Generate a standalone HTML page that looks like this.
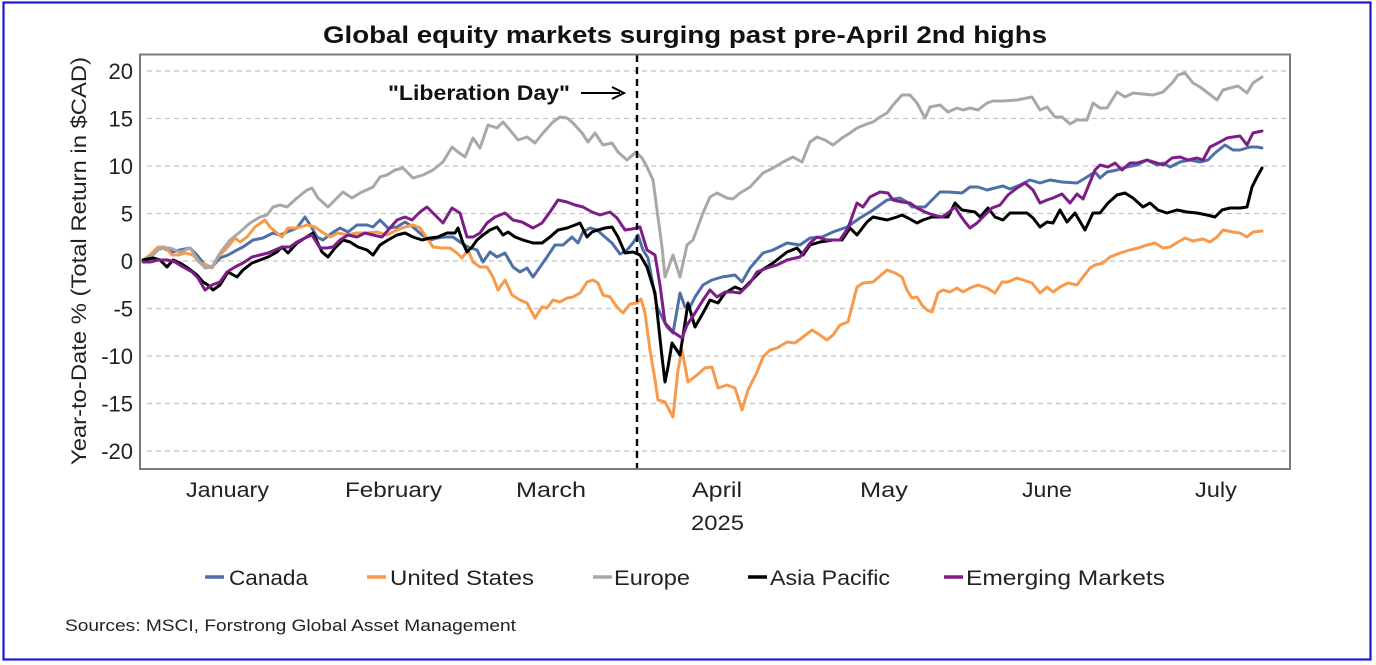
<!DOCTYPE html>
<html><head><meta charset="utf-8"><style>
html,body{margin:0;padding:0;background:#fff;}
svg{display:block;font-family:"Liberation Sans",Arial,sans-serif;}
</style></head><body>
<svg width="1376" height="665" viewBox="0 0 1376 665" xmlns="http://www.w3.org/2000/svg">
<rect x="0" y="0" width="1376" height="665" fill="#fff"/>
<rect x="3.5" y="2.5" width="1367" height="657" fill="none" stroke="#1a1ad0" stroke-width="2.2"/>

<text x="685" y="43" font-size="24" font-weight="bold" text-anchor="middle" textLength="724" lengthAdjust="spacingAndGlyphs" fill="#111">Global equity markets surging past pre-April 2nd highs</text>

<!-- gridlines -->
<g stroke="#c4c4c4" stroke-width="1.2" stroke-dasharray="5,4">
<line x1="147" y1="71" x2="1287" y2="71"/>
<line x1="147" y1="118.5" x2="1287" y2="118.5"/>
<line x1="147" y1="166" x2="1287" y2="166"/>
<line x1="147" y1="213.5" x2="1287" y2="213.5"/>
<line x1="147" y1="261" x2="1287" y2="261"/>
<line x1="147" y1="308.5" x2="1287" y2="308.5"/>
<line x1="147" y1="356" x2="1287" y2="356"/>
<line x1="147" y1="403.5" x2="1287" y2="403.5"/>
<line x1="147" y1="451" x2="1287" y2="451"/>
</g>

<!-- y tick labels -->
<g font-size="22" fill="#222" text-anchor="end">
<text x="133" y="79">20</text>
<text x="133" y="126.5">15</text>
<text x="133" y="174">10</text>
<text x="133" y="221.5">5</text>
<text x="133" y="269">0</text>
<text x="133" y="316.5">-5</text>
<text x="133" y="364">-10</text>
<text x="133" y="411.5">-15</text>
<text x="133" y="459">-20</text>
</g>

<text transform="translate(86,261) rotate(-90)" font-size="21" fill="#222" text-anchor="middle" textLength="408" lengthAdjust="spacingAndGlyphs">Year-to-Date % (Total Return in $CAD)</text>

<!-- series -->
<g fill="none" stroke-width="3" stroke-linejoin="round" stroke-linecap="round">
<polyline stroke="#4f6fa8" points="143,260 150,257 157,250 163,248 172,252 180,250 190,248 197,255 205,265 212,267 220,258 228,255 237,250 243,247 253,240 263,238 273,233 280,235 287,232 297,228 305,217 312,228 317,237 323,240 332,233 340,228 348,232 357,225 367,225 373,227 380,220 388,228 397,227 405,222 413,227 422,235 430,240 437,238 445,237 453,237 460,242 468,247 477,250 483,262 490,252 497,257 505,253 513,267 520,272 527,268 533,277 540,267 547,257 555,245 563,245 572,237 578,243 583,232 590,228 597,230 605,237 612,243 620,254 627,250 633,243 638,235 643,250 648,258 657,307 667,327 673,333 680,293 685,307 690,307 695,297 703,285 712,280 722,277 735,275 742,282 750,268 763,253 773,250 787,243 800,245 810,238 822,237 833,232 847,227 860,218 873,210 887,200 900,198 907,202 912,207 925,207 932,200 940,192 948,192 962,193 970,187 978,187 987,190 995,188 1003,186 1010,189 1020,185 1030,180 1040,183 1050,180 1062,182 1077,183 1087,177 1095,172 1100,178 1107,172 1117,170 1127,167 1137,165 1147,160 1157,165 1163,163 1170,167 1180,162 1190,160 1200,162 1208,160 1215,153 1225,145 1233,150 1240,150 1250,147 1257,147 1262,148"/>
<polyline stroke="#f79a4b" points="143,260 150,255 158,247 165,247 172,255 178,255 185,253 193,255 200,263 207,265 212,268 218,257 227,248 235,238 240,242 247,237 255,227 265,220 270,227 277,233 282,237 288,228 297,228 307,225 315,227 322,232 330,237 338,233 347,235 357,233 367,233 377,232 387,235 397,230 405,227 413,225 420,228 427,238 433,247 442,248 450,248 457,253 462,258 468,250 473,262 480,267 487,267 493,277 498,290 505,280 512,295 520,300 527,303 535,318 542,307 547,308 553,300 560,302 567,298 573,297 580,293 587,282 593,280 598,283 603,295 610,297 617,307 623,313 630,304 637,303 641,299 645,313 650,350 655,380 658,400 665,402 673,417 678,370 682,350 688,382 697,375 705,368 712,367 718,388 727,385 735,388 742,410 748,390 757,372 763,357 770,350 777,348 787,342 795,343 803,337 812,330 820,335 827,340 833,335 840,325 848,322 857,287 863,283 873,282 887,270 895,273 902,277 907,290 912,298 917,297 922,305 927,310 932,312 938,293 943,290 950,292 957,288 963,292 970,288 978,285 987,288 995,293 1002,282 1008,282 1017,278 1023,280 1032,283 1040,293 1047,287 1053,292 1060,287 1068,283 1077,285 1083,277 1090,268 1095,265 1103,263 1110,257 1120,253 1130,250 1138,248 1147,245 1155,243 1163,248 1170,247 1178,242 1185,238 1193,241 1203,239 1210,242 1217,237 1223,230 1233,232 1240,233 1247,237 1253,232 1262,231"/>
<polyline stroke="#a8a8a8" points="143,260 153,255 160,248 170,248 180,252 190,248 198,260 205,268 212,267 220,253 230,240 240,232 250,223 260,217 267,215 273,207 280,205 287,207 297,198 307,190 312,188 318,198 328,207 335,200 343,192 352,198 360,193 373,187 380,177 387,175 395,170 403,168 413,178 423,175 433,170 443,162 452,147 458,152 465,157 473,138 480,148 488,125 497,128 503,122 510,130 518,140 527,137 535,143 543,133 553,122 560,117 567,118 573,123 582,133 588,142 595,133 603,145 612,143 618,152 627,160 636,152 642,158 647,167 653,180 657,210 662,247 665,277 673,255 680,277 687,245 693,240 703,213 710,197 717,193 727,198 733,199 740,193 750,187 763,173 773,168 783,162 793,157 802,162 810,142 817,137 825,140 833,145 842,138 850,133 857,128 867,124 873,122 880,117 887,113 893,105 902,95 910,95 917,103 925,118 930,107 940,105 948,112 957,108 963,110 970,108 978,110 987,103 993,101 1003,101 1017,100 1032,97 1040,110 1047,107 1055,117 1062,117 1070,124 1077,120 1087,120 1093,103 1100,108 1107,108 1117,92 1125,97 1133,93 1153,95 1163,92 1173,82 1178,75 1185,73 1193,83 1200,87 1208,93 1217,100 1223,90 1230,88 1238,86 1247,93 1253,83 1262,77"/>
<polyline stroke="#000" points="143,260 153,258 160,260 167,267 173,260 180,263 188,268 197,275 203,282 208,285 213,290 220,285 228,272 237,277 243,270 252,263 260,260 268,257 277,252 282,247 288,253 297,243 305,238 313,233 322,252 328,257 335,248 343,240 350,242 358,247 367,250 373,255 380,245 388,240 397,235 405,233 413,237 422,240 430,238 438,237 447,233 455,233 458,228 463,243 467,252 472,247 477,240 483,235 490,230 497,227 503,235 508,232 515,237 523,240 533,243 542,243 550,237 558,230 567,228 575,225 580,223 587,237 592,232 598,230 605,228 612,227 618,237 625,253 633,252 640,255 647,267 655,293 658,320 662,357 665,382 668,367 672,343 680,355 685,323 688,303 695,327 703,313 710,300 718,303 725,293 735,287 742,290 752,280 762,270 773,263 787,252 797,248 803,255 810,245 820,242 833,240 842,240 850,228 857,235 867,222 873,217 887,220 897,217 902,215 908,218 917,223 923,220 932,217 948,217 955,203 962,210 975,212 980,217 988,208 995,217 1003,220 1010,213 1027,213 1033,218 1040,227 1047,222 1053,223 1060,210 1067,222 1075,213 1085,230 1093,213 1100,213 1108,203 1117,195 1125,193 1133,198 1143,207 1150,203 1158,210 1167,213 1177,210 1187,212 1197,213 1207,215 1215,217 1222,210 1230,208 1240,208 1247,207 1252,187 1257,177 1262,168"/>
<polyline stroke="#7e1d88" points="143,262 150,262 158,260 167,260 175,262 183,267 192,272 198,278 205,290 212,285 220,282 227,272 235,267 243,263 252,257 260,255 268,253 275,250 282,247 290,247 297,242 305,238 312,235 320,248 327,248 333,247 340,240 348,235 357,237 365,233 373,235 382,237 390,228 397,220 405,217 412,220 420,212 427,207 435,215 443,223 452,208 460,213 467,237 473,237 480,233 487,223 495,217 505,213 513,220 522,222 533,228 542,223 550,212 558,200 567,202 575,205 583,207 592,212 600,215 610,212 617,218 625,230 632,229 640,227 647,250 655,255 660,285 665,323 673,332 682,338 687,325 695,313 703,300 710,290 717,297 725,292 733,292 740,293 750,283 757,272 767,268 777,265 787,260 800,257 810,243 817,237 827,240 840,240 848,228 857,203 863,207 870,197 880,192 888,193 893,200 902,202 910,203 917,208 925,212 933,215 942,217 948,213 955,207 960,215 965,222 970,228 977,223 983,217 992,208 1000,205 1008,195 1017,188 1025,183 1033,190 1040,203 1047,200 1053,198 1062,194 1070,203 1077,194 1083,199 1088,187 1095,170 1100,165 1108,167 1115,163 1122,170 1130,163 1137,163 1147,160 1157,163 1163,165 1172,158 1180,157 1188,160 1197,158 1203,160 1210,147 1218,143 1227,138 1233,137 1240,136 1247,145 1253,133 1262,131"/>
</g>

<!-- Liberation Day line -->
<line x1="637" y1="55" x2="637" y2="469" stroke="#000" stroke-width="2.4" stroke-dasharray="7,5"/>
<text x="388" y="100" font-size="21" font-weight="bold" fill="#111" textLength="182" lengthAdjust="spacingAndGlyphs">"Liberation Day"</text>
<line x1="581" y1="93" x2="620" y2="93" stroke="#000" stroke-width="2"/>
<path d="M612,87 L624,93 L612,99" fill="none" stroke="#000" stroke-width="2"/>

<!-- plot frame -->
<rect x="140" y="54.5" width="1150" height="414.5" fill="none" stroke="#7a7a7a" stroke-width="2"/>

<!-- x labels -->
<g font-size="21" fill="#222">
<text x="186" y="497" textLength="83" lengthAdjust="spacingAndGlyphs">January</text>
<text x="345" y="497" textLength="97" lengthAdjust="spacingAndGlyphs">February</text>
<text x="516" y="497" textLength="70" lengthAdjust="spacingAndGlyphs">March</text>
<text x="692" y="497" textLength="50" lengthAdjust="spacingAndGlyphs">April</text>
<text x="860" y="497" textLength="48" lengthAdjust="spacingAndGlyphs">May</text>
<text x="1022" y="497" textLength="50" lengthAdjust="spacingAndGlyphs">June</text>
<text x="1195" y="497" textLength="42" lengthAdjust="spacingAndGlyphs">July</text>
<text x="691" y="530" textLength="53" lengthAdjust="spacingAndGlyphs">2025</text>
</g>

<!-- legend -->
<g stroke-width="3.5">
<line x1="205" y1="577" x2="224" y2="577" stroke="#4f6fa8"/>
<line x1="367" y1="577" x2="386" y2="577" stroke="#f79a4b"/>
<line x1="593" y1="577" x2="612" y2="577" stroke="#a8a8a8"/>
<line x1="748" y1="577" x2="767" y2="577" stroke="#000"/>
<line x1="944" y1="577" x2="963" y2="577" stroke="#7e1d88"/>
</g>
<g font-size="21" fill="#222">
<text x="229" y="585" textLength="79" lengthAdjust="spacingAndGlyphs">Canada</text>
<text x="390" y="585" textLength="144" lengthAdjust="spacingAndGlyphs">United States</text>
<text x="614" y="585" textLength="76" lengthAdjust="spacingAndGlyphs">Europe</text>
<text x="770" y="585" textLength="120" lengthAdjust="spacingAndGlyphs">Asia Pacific</text>
<text x="966" y="585" textLength="199" lengthAdjust="spacingAndGlyphs">Emerging Markets</text>
</g>

<text x="65" y="631" font-size="17" fill="#222" textLength="451" lengthAdjust="spacingAndGlyphs">Sources: MSCI, Forstrong Global Asset Management</text>
</svg>
</body></html>
